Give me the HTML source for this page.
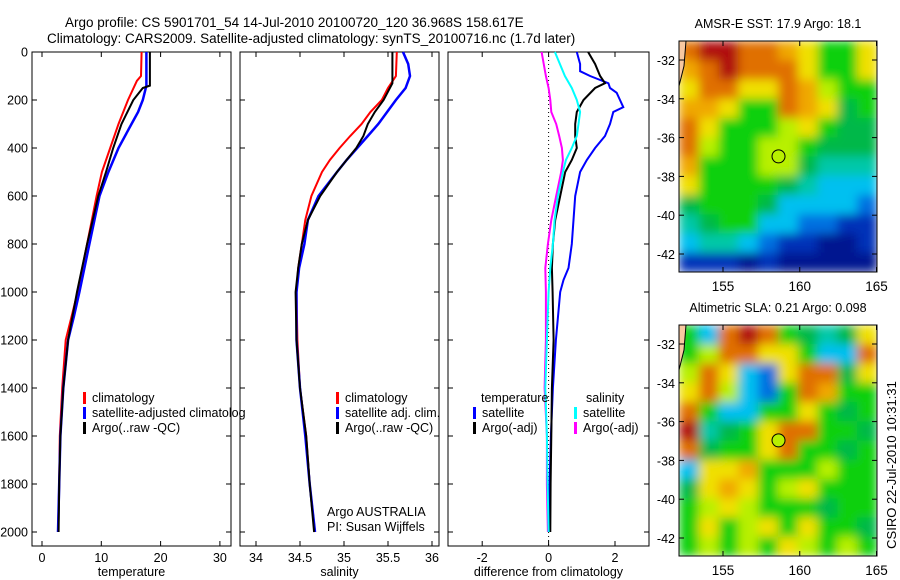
<!DOCTYPE html>
<html><head><meta charset="utf-8"><style>
body{margin:0;background:#fff}
svg{display:block;font-family:"Liberation Sans",sans-serif}
</style></head><body>
<svg id="fig" width="900" height="580" viewBox="0 0 900 580">
<defs>
<filter id="bl" x="0" y="0" width="1" height="1"><feGaussianBlur stdDeviation="5" edgeMode="duplicate"/></filter>
<clipPath id="c1"><rect x="679" y="41" width="198" height="231"/></clipPath>
<clipPath id="c2"><rect x="679" y="325" width="198" height="231"/></clipPath>
</defs>
<text x="65" y="27" font-size="13.5">Argo profile: CS 5901701_54 14-Jul-2010 20100720_120 36.968S 158.617E</text>
<text x="47" y="43" font-size="13.5">Climatology: CARS2009. Satellite-adjusted climatology: synTS_20100716.nc (1.7d later)</text>
<g id="g"></g>
</svg>
<script>
// ---------- data ----------
const depthTick=[0,200,400,600,800,1000,1200,1400,1600,1800,2000];
const tTicks=[0,10,20,30], sTicks=[34,34.5,35,35.5,36], dTicks=[-2,0,2];
const tClimD=[0,100,120,200,300,400,500,600,800,1000,1100,1200,1400,1600,1800,2000];
const tClimV=[16.8,16.7,16.0,14.5,12.9,11.5,10.1,9.2,7.6,6.0,5.0,4.0,3.4,3.0,2.9,2.7];
const tArgoD=[0,140,150,200,300,400,500,600,800,1000,1200,1400,1600,1800,2000];
const tArgoV=[18.2,18.2,17.0,15.4,13.4,12.0,10.8,9.5,7.6,5.9,4.4,3.6,3.1,2.9,2.8];
const tSatD=[0,140,200,250,300,400,500,600,800,1000,1100,1200,1400,1600,1800,2000];
const tSatV=[17.6,17.6,17.0,16.2,15.1,12.9,11.2,9.7,8.0,6.3,5.4,4.4,3.6,3.1,2.9,2.7];
const sClimD=[0,100,150,200,250,300,350,400,450,500,600,700,800,900,1000,1200,1400,1600,1800,2000];
const sClimV=[35.60,35.59,35.50,35.43,35.30,35.20,35.07,34.95,34.84,34.75,34.63,34.56,34.52,34.48,34.46,34.47,34.50,34.57,34.61,34.67];
const sArgoD=[0,130,200,250,300,350,400,450,500,600,700,800,900,1000,1200,1400,1600,1800,2000];
const sArgoV=[35.55,35.55,35.45,35.35,35.27,35.22,35.14,35.03,34.92,34.73,34.59,34.52,34.48,34.45,34.46,34.50,34.57,34.61,34.66];
const sSatD=[0,50,100,150,200,250,300,350,400,450,500,600,700,800,900,1000,1200,1400,1600,1800,2000];
const sSatV=[35.67,35.73,35.75,35.70,35.59,35.49,35.39,35.27,35.15,35.03,34.92,34.71,34.59,34.55,34.49,34.46,34.46,34.50,34.56,34.61,34.67];
const dSsD=[0,100,150,200,250,300,350,400,450,500,600,700,800,900,1000,1200,1400,1600,1800,2000];
const dSsV=[0.19,0.49,0.70,0.85,0.95,0.90,0.85,0.70,0.52,0.43,0.28,0.18,0.13,0.05,0.0,-0.05,-0.10,-0.05,-0.03,0.0];
const dSaD=[0,100,150,200,250,300,350,400,450,500,600,700,800,900,1000,1200,1400,1600,1800,2000];
const dSaV=[-0.21,-0.08,0.0,0.05,0.08,0.23,0.32,0.40,0.43,0.38,0.23,0.08,-0.02,-0.10,-0.08,-0.08,-0.12,-0.05,-0.05,-0.02];
const dTaD=[0,50,100,130,150,200,250,300,350,400,450,500,600,700,800,900,1000,1200,1400,1600,1800,2000];
const dTaV=[1.19,1.40,1.55,1.70,1.40,1.05,0.85,0.80,0.80,0.85,0.70,0.50,0.35,0.20,0.13,0.10,0.12,0.15,0.10,0.08,0.06,0.05];
const dTsD=[0,50,80,100,130,150,170,200,230,250,300,350,400,450,500,600,700,800,900,950,1000,1200,1400,1600,1800,2000];
const dTsV=[0.85,0.95,0.95,1.25,1.80,1.85,2.05,2.15,2.25,1.95,1.85,1.70,1.40,1.15,0.95,0.80,0.75,0.70,0.60,0.45,0.35,0.22,0.13,0.07,0.03,0.0];
const latTicks=[-32,-34,-36,-38,-40,-42], lonTicks=[155,160,165];
const sstGrid=["ODDOOoYGGY","oODOOOYGGY","YOOYYOoyGG","ooYGGOoYgG","OYGGGyYGgg","OyGGyyGggg","oGGGyygCCC","YGGGGgCccc","gGGGgccccB","CgGGccBBbb","cCCcBbbNNb","bbbNbNNNNN"];
const slaGrid=["GcODOGgCgY","GyOOYYGccO","yOYcBYOOgY","YOycBGOoGG","OGccGGYGgG","DCgGYOOGGg","OgGGYOGGgG","cYYoGGGyGG","gYoYGyYGGG","GyYyGGGgGG","GYGyYGYGGg","GyGyGYyGyG"];
const pal={D:"#b00808",O:"#e07000",o:"#f0a800",Y:"#f0e000",y:"#b8f000",G:"#10d010",g:"#00b848",C:"#00c8a8",c:"#00c0f0",B:"#0070e0",b:"#0030b8",N:"#001890"};
// ---------- drawing ----------
const NS="http://www.w3.org/2000/svg", G=document.getElementById('g');
function el(t,a,p){const e=document.createElementNS(NS,t);for(const k in a)e.setAttribute(k,a[k]);(p||G).appendChild(e);return e;}
const pTop=52, pBot=546;
const yD=d=>52+d*0.24;
const panels=[
 {x0:32,x1:231,f:v=>42+v*5.93,ticks:tTicks,lab:"temperature",name:"temperature-panel"},
 {x0:240,x1:439,f:v=>256+(v-34)*88,ticks:sTicks,lab:"salinity",name:"salinity-panel"},
 {x0:448,x1:649,f:v=>548.6+v*33.2,ticks:dTicks,lab:"difference from climatology",name:"difference-panel"}];
panels.forEach((p,i)=>{
 const r=el('rect',{x:p.x0,y:pTop,width:p.x1-p.x0,height:pBot-pTop,fill:'none',stroke:'#000','stroke-width':1});
 
 
 p.ticks.forEach(v=>{const x=p.f(v);
  el('line',{x1:x,x2:x,y1:pTop,y2:pTop+5,stroke:'#000'});el('line',{x1:x,x2:x,y1:pBot,y2:pBot-5,stroke:'#000'});
  const t=el('text',{x:x,y:pBot+16,'font-size':12.5,'text-anchor':'middle'});t.textContent=String(v);
  
  });
 depthTick.forEach(d=>{const y=yD(d);
  el('line',{x1:p.x0,x2:p.x0+5,y1:y,y2:y,stroke:'#000'});el('line',{x1:p.x1,x2:p.x1-5,y1:y,y2:y,stroke:'#000'});
  if(i==0){const t=el('text',{x:28,y:y+4.5,'font-size':12.5,'text-anchor':'end'});t.textContent=d;
   
   }});
 const t=el('text',{x:(p.x0+p.x1)/2,y:pBot+30,'font-size':12.5,'text-anchor':'middle'});t.textContent=p.lab;
 
 
});
el('line',{x1:548.6,x2:548.6,y1:pTop,y2:pBot,stroke:'#000','stroke-dasharray':'1 3'});
function line(p,D,V,col,w,name){
 const pts=D.map((d,k)=>p.f(V[k]).toFixed(1)+','+yD(d).toFixed(1)).join(' ');
 const l=el('polyline',{points:pts,fill:'none',stroke:col,'stroke-width':w});
 
 }
line(panels[0],tClimD,tClimV,'#f00',2,'temp-climatology-line');
line(panels[0],tSatD,tSatV,'#00f',2.5,'temp-satellite-line');
line(panels[0],tArgoD,tArgoV,'#000',2,'temp-argo-line');
line(panels[1],sClimD,sClimV,'#f00',2,'sal-climatology-line');
line(panels[1],sSatD,sSatV,'#00f',2.5,'sal-satellite-line');
line(panels[1],sArgoD,sArgoV,'#000',2,'sal-argo-line');
line(panels[2],dTsD,dTsV,'#00f',2,'diff-temp-satellite-line');
line(panels[2],dTaD,dTaV,'#000',2,'diff-temp-argo-line');
line(panels[2],dSaD,dSaV,'#f0f',2,'diff-sal-argo-line');
line(panels[2],dSsD,dSsV,'#0ff',2,'diff-sal-satellite-line');
function leg(x,y,col,txt,name){
 if(col){el('rect',{x:x,y:y-10,width:3,height:12,fill:col});}
 const t=el('text',{x:x+(col?9:0),y:y,'font-size':12.5});t.textContent=txt;
 
 }
leg(83,402,'#f00','climatology','legend-climatology');
leg(83,417,'#00f','satellite-adjusted climatolog','legend-satellite-adjusted');
leg(83,432,'#000','Argo(..raw -QC)','legend-argo');
leg(336,402,'#f00','climatology','legend2-climatology');
leg(336,417,'#00f','satellite adj. clim.','legend2-satellite');
leg(336,432,'#000','Argo(..raw -QC)','legend2-argo');
leg(327,516,null,'Argo AUSTRALIA','credit-argo-australia');
leg(327,531,null,'PI: Susan Wijffels','credit-pi');
leg(481,402,null,'temperature','legend3-temperature-heading');
leg(586,402,null,'salinity','legend3-salinity-heading');
leg(473,417,'#00f','satellite','legend3-temp-satellite');
leg(473,432,'#000','Argo(-adj)','legend3-temp-argo');
leg(574,417,'#0ff','satellite','legend3-sal-satellite');
leg(574,432,'#f0f','Argo(-adj)','legend3-sal-argo');
// maps
function drawMap(y0,grid,clip,title,name){
 const g=el('g',{'clip-path':'url(#'+clip+')'});
 const gi=el('g',{filter:'url(#bl)'},g);
 const cw=198/10,ch=231/12;
 grid.forEach((row,r)=>[...row].forEach((c,k)=>{el('rect',{x:679+k*cw,y:y0+r*ch,width:cw+0.5,height:ch+0.5,fill:pal[c]},gi);}));
 
 
 el('path',{d:`M679 ${y0} L686 ${y0} L684 ${y0+25} L679 ${y0+45} Z`,fill:'#f8c8a0'},g);
 el('path',{d:`M686 ${y0} L684 ${y0+25} L679 ${y0+45}`,fill:'none',stroke:'#000'},g);
 el('rect',{x:679,y:y0,width:198,height:231,fill:'none',stroke:'#000'});
 const lat=v=>y0+19+(-32-v)*19.4, lon=v=>723+(v-155)*15.35;
 latTicks.forEach(v=>{const y=lat(v);el('line',{x1:679,x2:684,y1:y,y2:y,stroke:'#000'});el('line',{x1:877,x2:872,y1:y,y2:y,stroke:'#000'});
  const t=el('text',{x:675,y:y+5,'font-size':12.5,'text-anchor':'end'});t.textContent=v;
  
  });
 lonTicks.forEach(v=>{const x=lon(v);el('line',{x1:x,x2:x,y1:y0,y2:y0+5,stroke:'#000'});el('line',{x1:x,x2:x,y1:y0+231,y2:y0+226,stroke:'#000'});
  const t=el('text',{x:x,y:y0+250,'font-size':13.5,'text-anchor':'middle'});t.textContent=v;
  
  });
 const c=el('circle',{cx:lon(158.617),cy:lat(-36.968),r:6.5,fill:'#b8f000',stroke:'#000'});
 
 
 const t=el('text',{x:778,y:y0-13,'font-size':12.5,'text-anchor':'middle'});t.textContent=title;
 
 
}
drawMap(41,sstGrid,'c1','AMSR-E SST: 17.9 Argo: 18.1','sst-map');
drawMap(325,slaGrid,'c2','Altimetric SLA: 0.21 Argo: 0.098','sla-map');
const ts=el('text',{x:0,y:0,'font-size':13,'text-anchor':'middle',transform:'translate(896,465) rotate(-90)'});
ts.textContent='CSIRO 22-Jul-2010 10:31:31';


</script>
</body></html>
